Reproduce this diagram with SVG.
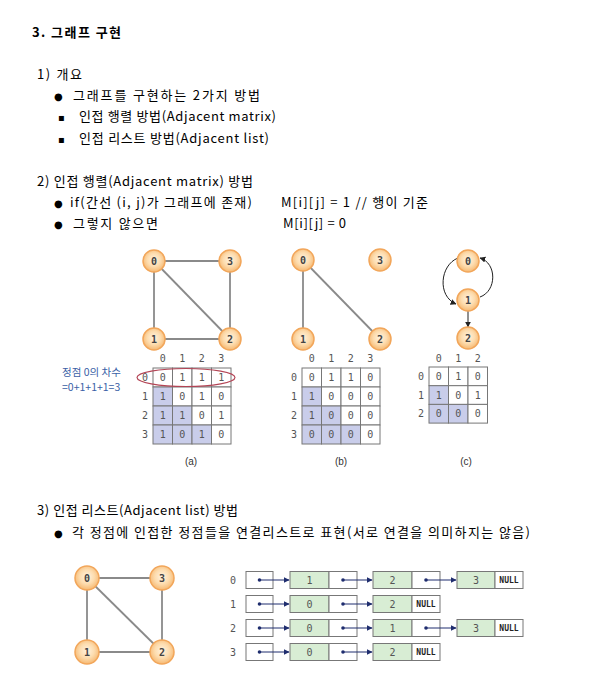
<svg xmlns="http://www.w3.org/2000/svg" width="612" height="683" viewBox="0 0 612 683">
<defs>
<radialGradient id="ng" cx="50%" cy="45%" r="55%">
<stop offset="0%" stop-color="#fff3e0"/>
<stop offset="55%" stop-color="#fddcae"/>
<stop offset="100%" stop-color="#f6b871"/>
</radialGradient>
<marker id="ah" viewBox="0 0 10 10" refX="9" refY="5" markerWidth="6" markerHeight="6" orient="auto" markerUnits="userSpaceOnUse">
<path d="M0,0 L10,5 L0,10 z" fill="#1f2d6e"/>
</marker>
<marker id="ahk" viewBox="0 0 10 10" refX="9" refY="5" markerWidth="6" markerHeight="6" orient="auto" markerUnits="userSpaceOnUse">
<path d="M0,0 L10,5 L0,10 z" fill="#222"/>
</marker>
</defs>
<style>
.t{font-family:"Noto Sans CJK KR","Liberation Sans",sans-serif;font-size:13px;fill:#000}
.b{font-weight:bold}
.bul{font-family:"DejaVu Sans",sans-serif;font-size:10px;fill:#000}
.m{font-family:"DejaVu Sans Mono",monospace;font-size:10px;fill:#555;text-anchor:middle}
.nl{font-family:"DejaVu Sans Mono",monospace;font-size:10px;fill:#444;font-weight:bold;text-anchor:middle}
.cap{font-family:"Liberation Sans",sans-serif;font-size:10px;fill:#333;text-anchor:middle}
.ann{font-family:"Noto Sans CJK KR","Liberation Sans",sans-serif;font-size:10.5px;fill:#3a5fa6}
.nd{fill:url(#ng);stroke:#f2a65a;stroke-width:1.5}
.edge{stroke:#8a8a8a;stroke-width:1.8;fill:none}
.cell{fill:#fff;stroke:#777;stroke-width:1}
.sh{fill:#c9cdea;stroke:#777;stroke-width:1}
.gc{fill:#d8edd4;stroke:#777;stroke-width:1}
.wc{fill:#fff;stroke:#777;stroke-width:1}
.ptr{stroke:#1f2d6e;stroke-width:1;fill:none}
.dot{fill:#1f2d6e}
.nul{font-family:"DejaVu Sans Mono",monospace;font-size:8px;fill:#222;font-weight:bold;text-anchor:middle}
</style>
<rect width="612" height="683" fill="#fff"/>

<g id="text">
<text class="t b" x="32" y="37" textLength="89" lengthAdjust="spacing">3. 그래프 구현</text>
<text class="t" x="37" y="79" textLength="45" lengthAdjust="spacing">1) 개요</text>
<text class="bul" x="54" y="100">●</text>
<text class="t" x="73" y="100" textLength="187" lengthAdjust="spacing">그래프를 구현하는 2가지 방법</text>
<text class="bul" x="58" y="121">▪</text>
<text class="t" x="79" y="121" textLength="197" lengthAdjust="spacing">인접 행렬 방법(Adjacent matrix)</text>
<text class="bul" x="58" y="143">▪</text>
<text class="t" x="79" y="143" textLength="190" lengthAdjust="spacing">인접 리스트 방법(Adjacent list)</text>
<text class="t" x="37" y="186" textLength="216" lengthAdjust="spacing">2) 인접 행렬(Adjacent matrix) 방법</text>
<text class="bul" x="54" y="207">●</text>
<text class="t" x="70" y="207" textLength="182" lengthAdjust="spacing">if(간선 (i, j)가 그래프에 존재)</text>
<text class="t" x="281" y="207" textLength="147" lengthAdjust="spacing">M[i][j] = 1 // 행이 기준</text>
<text class="bul" x="54" y="228">●</text>
<text class="t" x="73" y="228" textLength="85" lengthAdjust="spacing">그렇지 않으면</text>
<text class="t" x="283" y="228" textLength="63" lengthAdjust="spacing">M[i][j] = 0</text>
<text class="t" x="37" y="515" textLength="201" lengthAdjust="spacing">3) 인접 리스트(Adjacent list) 방법</text>
<text class="bul" x="54" y="537">●</text>
<text class="t" x="72" y="537" textLength="458" lengthAdjust="spacing">각 정점에 인접한 정점들을 연결리스트로 표현(서로 연결을 의미하지는 않음)</text>
</g>

<g id="connectors">
<line class="edge" x1="154" y1="261" x2="230" y2="261"/>
<line class="edge" x1="154" y1="261" x2="154" y2="339"/>
<line class="edge" x1="154" y1="339" x2="230" y2="339"/>
<line class="edge" x1="230" y1="261" x2="230" y2="339"/>
<line class="edge" x1="154" y1="261" x2="230" y2="339"/>
<line class="edge" x1="303" y1="260" x2="303" y2="339"/>
<line class="edge" x1="303" y1="260" x2="380" y2="339"/>
<path d="M458,258 C440,265 437,296 456,304" stroke="#222" stroke-width="1" fill="none" marker-end="url(#ahk)"/>
<path d="M480,297 C497,291 497,263 480,258" stroke="#222" stroke-width="1" fill="none" marker-end="url(#ahk)"/>
<line x1="468" y1="311" x2="468" y2="327" stroke="#222" stroke-width="1" marker-end="url(#ahk)"/>
<line class="edge" x1="87" y1="578" x2="162" y2="578"/>
<line class="edge" x1="87" y1="578" x2="87" y2="652"/>
<line class="edge" x1="87" y1="652" x2="162" y2="652"/>
<line class="edge" x1="162" y1="578" x2="162" y2="652"/>
<line class="edge" x1="87" y1="578" x2="162" y2="652"/>
</g>

<g id="graph-a">
<g id="a-n0"><circle class="nd" cx="154" cy="261" r="11"/><text class="nl" x="154" y="264.5">0</text></g>
<g id="a-n3"><circle class="nd" cx="230" cy="261" r="11"/><text class="nl" x="230" y="264.5">3</text></g>
<g id="a-n1"><circle class="nd" cx="154" cy="339" r="11"/><text class="nl" x="154" y="342.5">1</text></g>
<g id="a-n2"><circle class="nd" cx="230" cy="339" r="11"/><text class="nl" x="230" y="342.5">2</text></g>
</g>

<g id="matrix-a">
<rect class="cell" x="153" y="368" width="19.5" height="19"/><rect class="cell" x="172.5" y="368" width="19.5" height="19"/><rect class="cell" x="192" y="368" width="19.5" height="19"/><rect class="cell" x="211.5" y="368" width="19.5" height="19"/>
<rect class="sh" x="153" y="387" width="19.5" height="19"/><rect class="cell" x="172.5" y="387" width="19.5" height="19"/><rect class="cell" x="192" y="387" width="19.5" height="19"/><rect class="cell" x="211.5" y="387" width="19.5" height="19"/>
<rect class="sh" x="153" y="406" width="19.5" height="19"/><rect class="sh" x="172.5" y="406" width="19.5" height="19"/><rect class="cell" x="192" y="406" width="19.5" height="19"/><rect class="cell" x="211.5" y="406" width="19.5" height="19"/>
<rect class="sh" x="153" y="425" width="19.5" height="19"/><rect class="sh" x="172.5" y="425" width="19.5" height="19"/><rect class="sh" x="192" y="425" width="19.5" height="19"/><rect class="cell" x="211.5" y="425" width="19.5" height="19"/>
<text class="m" x="162.75" y="362">0</text><text class="m" x="182.25" y="362">1</text><text class="m" x="201.75" y="362">2</text><text class="m" x="221.25" y="362">3</text>
<text class="m" x="145" y="381">0</text><text class="m" x="145" y="400">1</text><text class="m" x="145" y="419">2</text><text class="m" x="145" y="438">3</text>
<text class="m" x="162.75" y="381">0</text><text class="m" x="182.25" y="381">1</text><text class="m" x="201.75" y="381">1</text><text class="m" x="221.25" y="381">1</text>
<text class="m" x="162.75" y="400">1</text><text class="m" x="182.25" y="400">0</text><text class="m" x="201.75" y="400">1</text><text class="m" x="221.25" y="400">0</text>
<text class="m" x="162.75" y="419">1</text><text class="m" x="182.25" y="419">1</text><text class="m" x="201.75" y="419">0</text><text class="m" x="221.25" y="419">1</text>
<text class="m" x="162.75" y="438">1</text><text class="m" x="182.25" y="438">0</text><text class="m" x="201.75" y="438">1</text><text class="m" x="221.25" y="438">0</text>
<ellipse cx="186" cy="377.5" rx="49" ry="9" fill="none" stroke="#b34455" stroke-width="1.2"/>
<text class="ann" x="62" y="376">정점 0의 차수</text>
<text class="ann" x="62" y="391">=0+1+1+1=3</text>
<text class="cap" x="191" y="465">(a)</text>
</g>

<g id="graph-b">
<g id="b-n0"><circle class="nd" cx="303" cy="260" r="11"/><text class="nl" x="303" y="263.5">0</text></g>
<g id="b-n3"><circle class="nd" cx="380" cy="260" r="11"/><text class="nl" x="380" y="263.5">3</text></g>
<g id="b-n1"><circle class="nd" cx="303" cy="339" r="11"/><text class="nl" x="303" y="342.5">1</text></g>
<g id="b-n2"><circle class="nd" cx="380" cy="339" r="11"/><text class="nl" x="380" y="342.5">2</text></g>
</g>

<g id="matrix-b">
<rect class="cell" x="302" y="368" width="19.5" height="19"/><rect class="cell" x="321.5" y="368" width="19.5" height="19"/><rect class="cell" x="341" y="368" width="19.5" height="19"/><rect class="cell" x="360.5" y="368" width="19.5" height="19"/>
<rect class="sh" x="302" y="387" width="19.5" height="19"/><rect class="cell" x="321.5" y="387" width="19.5" height="19"/><rect class="cell" x="341" y="387" width="19.5" height="19"/><rect class="cell" x="360.5" y="387" width="19.5" height="19"/>
<rect class="sh" x="302" y="406" width="19.5" height="19"/><rect class="sh" x="321.5" y="406" width="19.5" height="19"/><rect class="cell" x="341" y="406" width="19.5" height="19"/><rect class="cell" x="360.5" y="406" width="19.5" height="19"/>
<rect class="sh" x="302" y="425" width="19.5" height="19"/><rect class="sh" x="321.5" y="425" width="19.5" height="19"/><rect class="sh" x="341" y="425" width="19.5" height="19"/><rect class="cell" x="360.5" y="425" width="19.5" height="19"/>
<text class="m" x="311.75" y="362">0</text><text class="m" x="331.25" y="362">1</text><text class="m" x="350.75" y="362">2</text><text class="m" x="370.25" y="362">3</text>
<text class="m" x="294" y="381">0</text><text class="m" x="294" y="400">1</text><text class="m" x="294" y="419">2</text><text class="m" x="294" y="438">3</text>
<text class="m" x="311.75" y="381">0</text><text class="m" x="331.25" y="381">1</text><text class="m" x="350.75" y="381">1</text><text class="m" x="370.25" y="381">0</text>
<text class="m" x="311.75" y="400">1</text><text class="m" x="331.25" y="400">0</text><text class="m" x="350.75" y="400">0</text><text class="m" x="370.25" y="400">0</text>
<text class="m" x="311.75" y="419">1</text><text class="m" x="331.25" y="419">0</text><text class="m" x="350.75" y="419">0</text><text class="m" x="370.25" y="419">0</text>
<text class="m" x="311.75" y="438">0</text><text class="m" x="331.25" y="438">0</text><text class="m" x="350.75" y="438">0</text><text class="m" x="370.25" y="438">0</text>
<text class="cap" x="341" y="465">(b)</text>
</g>

<g id="graph-c">
<g id="c-n0"><circle class="nd" cx="468" cy="261" r="11"/><text class="nl" x="468" y="264.5">0</text></g>
<g id="c-n1"><circle class="nd" cx="468" cy="300" r="11"/><text class="nl" x="468" y="303.5">1</text></g>
<g id="c-n2"><circle class="nd" cx="468" cy="338" r="11"/><text class="nl" x="468" y="341.5">2</text></g>
</g>

<g id="matrix-c">
<rect class="cell" x="429" y="367" width="19.5" height="18.7"/><rect class="cell" x="448.5" y="367" width="19.5" height="18.7"/><rect class="cell" x="468" y="367" width="19.5" height="18.7"/>
<rect class="sh" x="429" y="385.7" width="19.5" height="18.7"/><rect class="cell" x="448.5" y="385.7" width="19.5" height="18.7"/><rect class="cell" x="468" y="385.7" width="19.5" height="18.7"/>
<rect class="sh" x="429" y="404.4" width="19.5" height="18.7"/><rect class="sh" x="448.5" y="404.4" width="19.5" height="18.7"/><rect class="cell" x="468" y="404.4" width="19.5" height="18.7"/>
<text class="m" x="438.75" y="362">0</text><text class="m" x="458.25" y="362">1</text><text class="m" x="477.75" y="362">2</text>
<text class="m" x="421" y="380">0</text><text class="m" x="421" y="398.7">1</text><text class="m" x="421" y="417.4">2</text>
<text class="m" x="438.75" y="380">0</text><text class="m" x="458.25" y="380">1</text><text class="m" x="477.75" y="380">0</text>
<text class="m" x="438.75" y="398.7">1</text><text class="m" x="458.25" y="398.7">0</text><text class="m" x="477.75" y="398.7">1</text>
<text class="m" x="438.75" y="417.4">0</text><text class="m" x="458.25" y="417.4">0</text><text class="m" x="477.75" y="417.4">0</text>
<text class="cap" x="466" y="465">(c)</text>
</g>

<g id="graph-list">
<g id="l-n0"><circle class="nd" cx="87" cy="578" r="12"/><text class="nl" x="87" y="581.5">0</text></g>
<g id="l-n3"><circle class="nd" cx="162" cy="578" r="12"/><text class="nl" x="162" y="581.5">3</text></g>
<g id="l-n1"><circle class="nd" cx="87" cy="652" r="12"/><text class="nl" x="87" y="655.5">1</text></g>
<g id="l-n2"><circle class="nd" cx="162" cy="652" r="12"/><text class="nl" x="162" y="655.5">2</text></g>
</g>

<g id="list-0">
<text class="m" x="233" y="583.5">0</text>
<rect class="wc" x="246" y="571.5" width="27" height="17"/>
<rect class="gc" x="290" y="571.5" width="39" height="17"/><rect class="wc" x="329" y="571.5" width="28" height="17"/>
<rect class="gc" x="373" y="571.5" width="39" height="17"/><rect class="wc" x="412" y="571.5" width="28" height="17"/>
<rect class="gc" x="457" y="571.5" width="38" height="17"/><rect class="wc" x="495" y="571.5" width="28" height="17"/>
<text class="m" x="309.5" y="583.5">1</text><text class="m" x="392.5" y="583.5">2</text><text class="m" x="476" y="583.5">3</text>
<text class="nul" x="509" y="583">NULL</text>
</g>
<g id="list-1">
<text class="m" x="233" y="607.5">1</text>
<rect class="wc" x="246" y="595.5" width="27" height="17"/>
<rect class="gc" x="290" y="595.5" width="39" height="17"/><rect class="wc" x="329" y="595.5" width="28" height="17"/>
<rect class="gc" x="373" y="595.5" width="39" height="17"/><rect class="wc" x="412" y="595.5" width="28" height="17"/>
<text class="m" x="309.5" y="607.5">0</text><text class="m" x="392.5" y="607.5">2</text>
<text class="nul" x="426" y="607">NULL</text>
</g>
<g id="list-2">
<text class="m" x="233" y="631.5">2</text>
<rect class="wc" x="246" y="619.5" width="27" height="17"/>
<rect class="gc" x="290" y="619.5" width="39" height="17"/><rect class="wc" x="329" y="619.5" width="28" height="17"/>
<rect class="gc" x="373" y="619.5" width="39" height="17"/><rect class="wc" x="412" y="619.5" width="28" height="17"/>
<rect class="gc" x="457" y="619.5" width="38" height="17"/><rect class="wc" x="495" y="619.5" width="28" height="17"/>
<text class="m" x="309.5" y="631.5">0</text><text class="m" x="392.5" y="631.5">1</text><text class="m" x="476" y="631.5">3</text>
<text class="nul" x="509" y="631">NULL</text>
</g>
<g id="list-3">
<text class="m" x="233" y="655.5">3</text>
<rect class="wc" x="246" y="643.5" width="27" height="17"/>
<rect class="gc" x="290" y="643.5" width="39" height="17"/><rect class="wc" x="329" y="643.5" width="28" height="17"/>
<rect class="gc" x="373" y="643.5" width="39" height="17"/><rect class="wc" x="412" y="643.5" width="28" height="17"/>
<text class="m" x="309.5" y="655.5">0</text><text class="m" x="392.5" y="655.5">2</text>
<text class="nul" x="426" y="655">NULL</text>
</g>

<g id="list-connectors">
<circle class="dot" cx="259.5" cy="580" r="1.8"/><circle class="dot" cx="343" cy="580" r="1.8"/><circle class="dot" cx="426" cy="580" r="1.8"/>
<circle class="dot" cx="259.5" cy="604" r="1.8"/><circle class="dot" cx="343" cy="604" r="1.8"/>
<circle class="dot" cx="259.5" cy="628" r="1.8"/><circle class="dot" cx="343" cy="628" r="1.8"/><circle class="dot" cx="426" cy="628" r="1.8"/>
<circle class="dot" cx="259.5" cy="652" r="1.8"/><circle class="dot" cx="343" cy="652" r="1.8"/>
<line class="ptr" x1="259.5" y1="580" x2="289" y2="580" marker-end="url(#ah)"/>
<line class="ptr" x1="343" y1="580" x2="372" y2="580" marker-end="url(#ah)"/>
<line class="ptr" x1="426" y1="580" x2="456" y2="580" marker-end="url(#ah)"/>
<line class="ptr" x1="259.5" y1="604" x2="289" y2="604" marker-end="url(#ah)"/>
<line class="ptr" x1="343" y1="604" x2="372" y2="604" marker-end="url(#ah)"/>
<line class="ptr" x1="259.5" y1="628" x2="289" y2="628" marker-end="url(#ah)"/>
<line class="ptr" x1="343" y1="628" x2="372" y2="628" marker-end="url(#ah)"/>
<line class="ptr" x1="426" y1="628" x2="456" y2="628" marker-end="url(#ah)"/>
<line class="ptr" x1="259.5" y1="652" x2="289" y2="652" marker-end="url(#ah)"/>
<line class="ptr" x1="343" y1="652" x2="372" y2="652" marker-end="url(#ah)"/>
</g>
</svg>
